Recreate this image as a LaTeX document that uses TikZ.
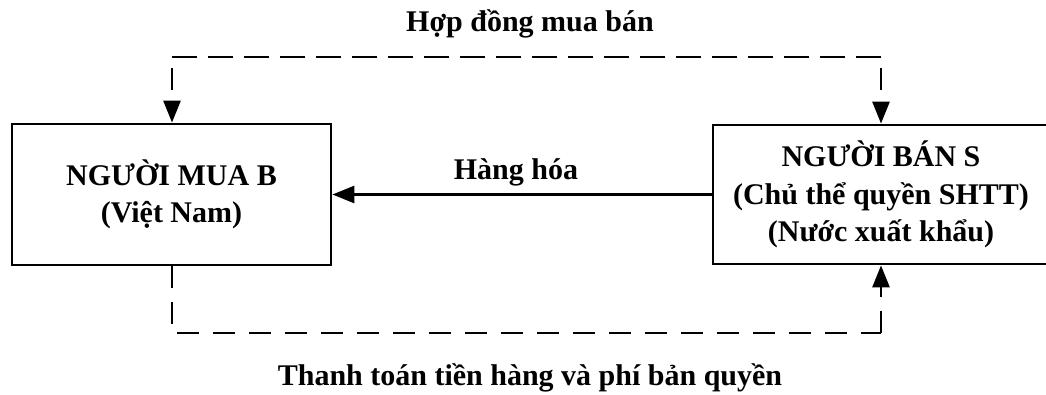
\documentclass[tikz,border=0pt]{standalone}
\usepackage{fontspec}
\setmainfont{Liberation Serif}
\usetikzlibrary{arrows.meta}
\begin{document}
\begin{tikzpicture}[x=1pt,y=1pt,
  txt/.style={font=\fontsize{30}{37.5}\selectfont\bfseries, inner sep=0pt},
  box/.style={draw, line width=2.8pt, align=center, inner sep=0pt, font=\fontsize{30}{37.5}\selectfont\bfseries},
  dash line/.style={line width=2.8pt, dash pattern=on 22pt off 14pt},
  tip/.style={-{Triangle[length=22pt,width=17pt]}}
]
\useasboundingbox (0,0) rectangle (1046,394);
\node[box, minimum width=319pt, minimum height=141pt] (B) at (171.5,199.5) {NGƯỜI MUA B\\(Việt Nam)};
\node[box, minimum width=336pt, minimum height=139pt] (S) at (881,199.5) {NGƯỜI BÁN S\\(Chủ thể quyền SHTT)\\(Nước xuất khẩu)};
\coordinate (t1) at (172,337);
\coordinate (t2) at (881,337);
\coordinate (b1) at (172,61);
\coordinate (b2) at (881,61);
\draw[dash line, tip] (t2) -- (t1) -- (B.north -| t1);
\draw[dash line, tip] (t1) -- (t2) -- (S.north -| t2);
\draw[dash line] (B.south -| b1) -- (b1) -- (b2);
\draw[dash line, tip] (b2) -- (S.south -| b2);
\draw[line width=2.8pt, tip] (S.west) -- (B.east);
\node[txt, anchor=base] (h) at (530,362) {Hợp đồng mua bán};
\node[txt, anchor=base] (g) at (516,214) {Hàng hóa};
\node[txt, anchor=base] (p) at (530,9) {Thanh toán tiền hàng và phí bản quyền};
\end{tikzpicture}
\end{document}
